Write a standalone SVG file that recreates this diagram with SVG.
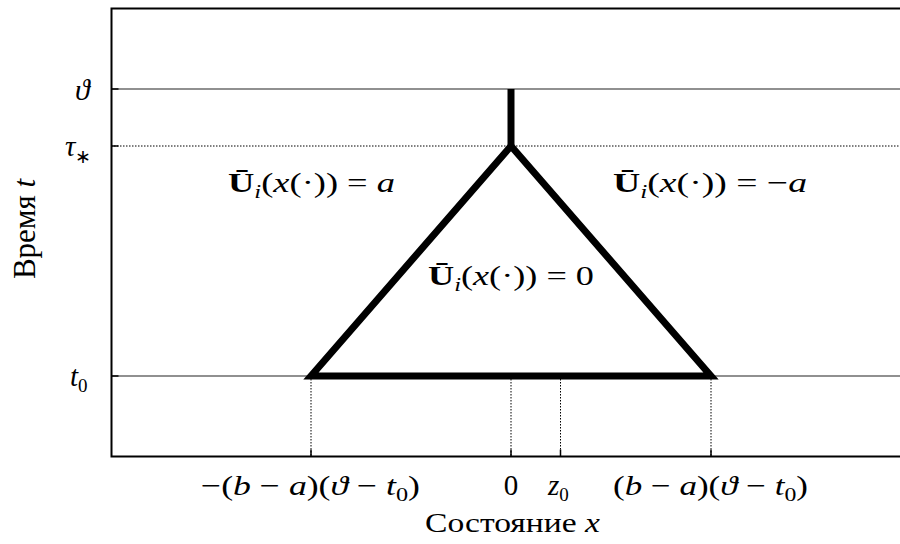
<svg xmlns="http://www.w3.org/2000/svg" width="900" height="544" viewBox="0 0 900 544">
<style>
.i{font-style:italic}
.b{font-weight:bold}
.s{font-size:19px}
.thin{stroke:#222;stroke-width:1.2;fill:none}
.dot{stroke:#000;stroke-width:1;stroke-dasharray:1.5,1.5;fill:none}
.thick{stroke:#000;stroke-width:7;fill:none;stroke-linejoin:miter;stroke-miterlimit:10}
</style>
<rect width="900" height="544" fill="#fff"/>
<g id="grid">
<line class="thin" x1="111" y1="89" x2="900" y2="89"/>
<line class="dot" x1="111" y1="146" x2="900" y2="146"/>
<line class="thin" x1="111" y1="376" x2="900" y2="376"/>
<line class="dot" x1="311" y1="376" x2="311" y2="457"/>
<line class="dot" x1="511" y1="376" x2="511" y2="457"/>
<line class="dot" x1="560.5" y1="376" x2="560.5" y2="457"/>
<line class="dot" x1="711" y1="376" x2="711" y2="457"/>
</g>
<g id="axes" stroke="#000" stroke-width="2" fill="none">
<path d="M900,8.5 H111.5 V456.5 H900"/>
<path d="M111.5,89 h7 M111.5,146 h7 M111.5,376 h7" stroke-width="1.5"/>
<path d="M311,456.5 v-7 M511,456.5 v-7 M560.5,456.5 v-7 M711,456.5 v-7" stroke-width="1.5"/>
</g>
<g id="boundary">
<path class="thick" d="M511,146 L311,376 L711,376 L511,146"/>
<line class="thick" x1="511" y1="89" x2="511" y2="146" stroke-width="6"/>
</g>
<g id="ylabels">
<text font-family="Liberation Serif" font-size="30" class="i" x="75" y="100">ϑ</text>
<text font-family="Liberation Serif" font-size="29" x="65" y="156"><tspan class="i">τ</tspan><tspan class="s" dy="7">∗</tspan></text>
<text font-family="Liberation Serif" font-size="29" x="70" y="386"><tspan class="i">t</tspan><tspan class="s" dy="6">0</tspan></text>
<text font-family="Liberation Serif" font-size="31" transform="translate(35,229) rotate(-90)" text-anchor="middle">Время <tspan class="i">t</tspan></text>
</g>
<g id="region-left">
<text font-family="Liberation Serif" font-size="28" x="228" y="192" textLength="167" lengthAdjust="spacingAndGlyphs"><tspan class="b">Ū</tspan><tspan class="s i" dy="6">i</tspan><tspan dy="-6">(</tspan><tspan class="i">x</tspan>(·)) = <tspan class="i">a</tspan></text>
</g>
<g id="region-right">
<text font-family="Liberation Serif" font-size="28" x="613" y="192" textLength="194" lengthAdjust="spacingAndGlyphs"><tspan class="b">Ū</tspan><tspan class="s i" dy="6">i</tspan><tspan dy="-6">(</tspan><tspan class="i">x</tspan>(·)) = −<tspan class="i">a</tspan></text>
</g>
<g id="region-center">
<text font-family="Liberation Serif" font-size="28" x="428" y="285" textLength="166" lengthAdjust="spacingAndGlyphs"><tspan class="b">Ū</tspan><tspan class="s i" dy="6">i</tspan><tspan dy="-6">(</tspan><tspan class="i">x</tspan>(·)) = 0</text>
</g>
<g id="xlabels">
<text font-family="Liberation Serif" font-size="28" x="201" y="495" textLength="219" lengthAdjust="spacingAndGlyphs">−(<tspan class="i">b</tspan> − <tspan class="i">a</tspan>)(<tspan class="i">ϑ</tspan> − <tspan class="i">t</tspan><tspan class="s" dy="6">0</tspan><tspan dy="-6">)</tspan></text>
<text font-family="Liberation Serif" font-size="29" x="511" y="495" text-anchor="middle">0</text>
<text font-family="Liberation Serif" font-size="29" x="548" y="495"><tspan class="i">z</tspan><tspan class="s" dy="6">0</tspan></text>
<text font-family="Liberation Serif" font-size="28" x="613" y="495" textLength="195" lengthAdjust="spacingAndGlyphs">(<tspan class="i">b</tspan> − <tspan class="i">a</tspan>)(<tspan class="i">ϑ</tspan> − <tspan class="i">t</tspan><tspan class="s" dy="6">0</tspan><tspan dy="-6">)</tspan></text>
<text font-family="Liberation Serif" font-size="28" x="425" y="532" textLength="175" lengthAdjust="spacingAndGlyphs">Состояние <tspan class="i">x</tspan></text>
</g>
</svg>
